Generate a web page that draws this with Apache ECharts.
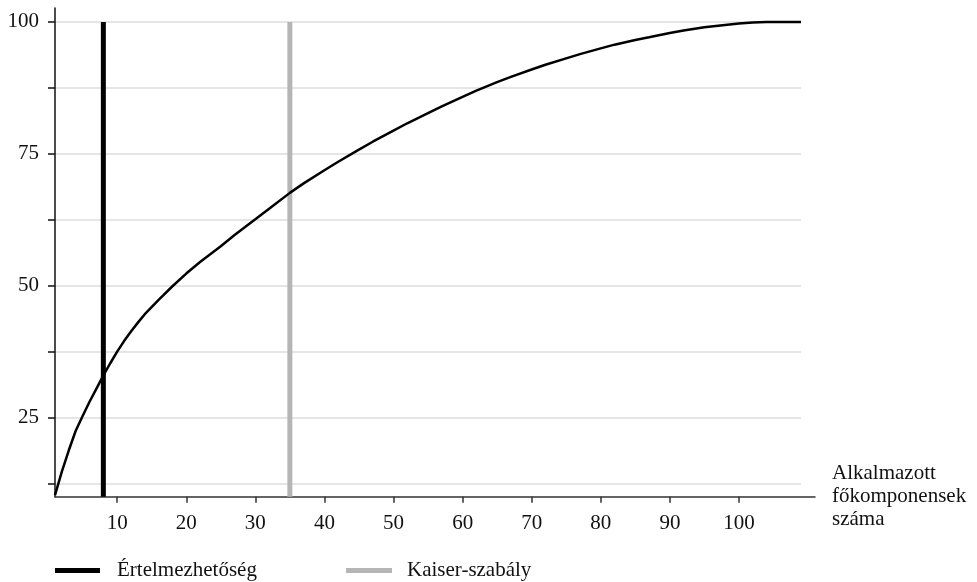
<!DOCTYPE html>
<html>
<head>
<meta charset="utf-8">
<script src="https://cdn.jsdelivr.net/npm/echarts@6/dist/echarts.min.js"></script>
<style>html,body{margin:0;padding:0;background:#fff}#c{width:977px;height:582px}</style>
</head>
<body>
<div id="c"></div>
<script>
// Data
const componentsX = [1, 2, 3, 4, 5, 6, 7, 8, 9, 10, 11, 12, 13, 14, 16, 18, 20, 22, 25, 27, 30, 32, 35, 37, 40, 42, 45, 47, 50, 52, 55, 57, 60, 62, 65, 67, 70, 72, 75, 77, 80, 82, 85, 87, 90, 92, 95, 97, 100, 102, 104, 109];
const explainedPct = [10.3, 14.8, 18.8, 22.5, 25.3, 28, 30.5, 33, 35.3, 37.5, 39.5, 41.3, 43, 44.6, 47.3, 49.9, 52.3, 54.5, 57.5, 59.6, 62.6, 64.6, 67.6, 69.4, 71.9, 73.5, 75.8, 77.3, 79.4, 80.8, 82.7, 84.0, 85.8, 87.0, 88.6, 89.6, 91.0, 91.9, 93.1, 93.9, 95.0, 95.7, 96.6, 97.1, 97.9, 98.4, 99.0, 99.3, 99.7, 99.9, 100, 100];
const ruleNames = ['Értelmezhetőség', 'Kaiser-szabály'];
const ruleX = [8, 35];
const yTicks = [12.5, 25, 37.5, 50, 62.5, 75, 87.5, 100];
const yLabels = [25, 50, 75, 100];
const xTicks = [10, 20, 30, 40, 50, 60, 70, 80, 90, 100];
const xAxisName = 'Alkalmazott\nfőkomponensek\nszáma';

const FONT = 'Liberation Serif';
const FS = 21;
const curve = componentsX.map((x, i) => [x, explainedPct[i]]);
const ruleColors = ['#000000', '#b5b5b5'];

const chart = echarts.init(document.getElementById('c'), null, {renderer: 'canvas'});
chart.setOption({
  animation: false,
  textStyle: {fontFamily: FONT},
  grid: [
    {left: 55, right: 176, top: 8, bottom: 85.3, containLabel: false},
    {left: 55, right: 162, top: 8, bottom: 85.3, containLabel: false}
  ],
  xAxis: [
    {gridIndex: 0, type: 'value', min: 1, max: 109, show: false, splitLine: {show: false}},
    {gridIndex: 1, type: 'value', min: 1, max: 111,
      axisLine: {show: true, lineStyle: {color: '#333', width: 1.5}},
      axisTick: {show: true, customValues: xTicks, length: 6, lineStyle: {color: '#333', width: 1.5}},
      axisLabel: {customValues: xTicks, color: '#111', fontSize: FS, fontFamily: FONT, margin: 16},
      splitLine: {show: false},
      name: xAxisName, nameLocation: 'end', nameGap: 17,
      nameTextStyle: {fontFamily: FONT, fontSize: FS, color: '#111', align: 'left', verticalAlign: 'middle', lineHeight: 23}
    }
  ],
  yAxis: [
    {gridIndex: 0, type: 'value', min: 10, max: 102.65,
      axisLine: {show: true, lineStyle: {color: '#111', width: 1.5}},
      axisTick: {show: true, customValues: yTicks, length: 7, lineStyle: {color: '#111', width: 1.5}},
      axisLabel: {customValues: yLabels, color: '#111', fontSize: FS, fontFamily: FONT, margin: 16},
      splitLine: {show: true, lineStyle: {color: '#dcdcdc', width: 1.5}}
    },
    {gridIndex: 1, type: 'value', min: 10, max: 102.65, show: false, splitLine: {show: false}}
  ],
  legend: [
    {data: [ruleNames[0]], left: 55, top: 560, padding: 0, icon: 'rect', itemWidth: 45, itemHeight: 5,
      textStyle: {fontFamily: FONT, fontSize: FS, color: '#111', padding: [0, 0, 0, 12]}},
    {data: [ruleNames[1]], left: 346, top: 560, padding: 0, icon: 'rect', itemWidth: 46, itemHeight: 5,
      textStyle: {fontFamily: FONT, fontSize: FS, color: '#111', padding: [0, 0, 0, 10]}}
  ],
  series: [
    {name: 'curve', type: 'line', xAxisIndex: 0, yAxisIndex: 0, data: curve, showSymbol: false,
      smooth: false,
      lineStyle: {color: '#000', width: 2.5}, z: 3},
    {name: ruleNames[0], type: 'line', xAxisIndex: 0, yAxisIndex: 0, data: [[ruleX[0], 10], [ruleX[0], 100]], showSymbol: false,
      color: ruleColors[0], lineStyle: {color: ruleColors[0], width: 5}, z: 2},
    {name: ruleNames[1], type: 'line', xAxisIndex: 0, yAxisIndex: 0, data: [[ruleX[1], 10], [ruleX[1], 100]], showSymbol: false,
      color: ruleColors[1], lineStyle: {color: ruleColors[1], width: 5}, z: 2}
  ]
});
</script>
</body>
</html>
